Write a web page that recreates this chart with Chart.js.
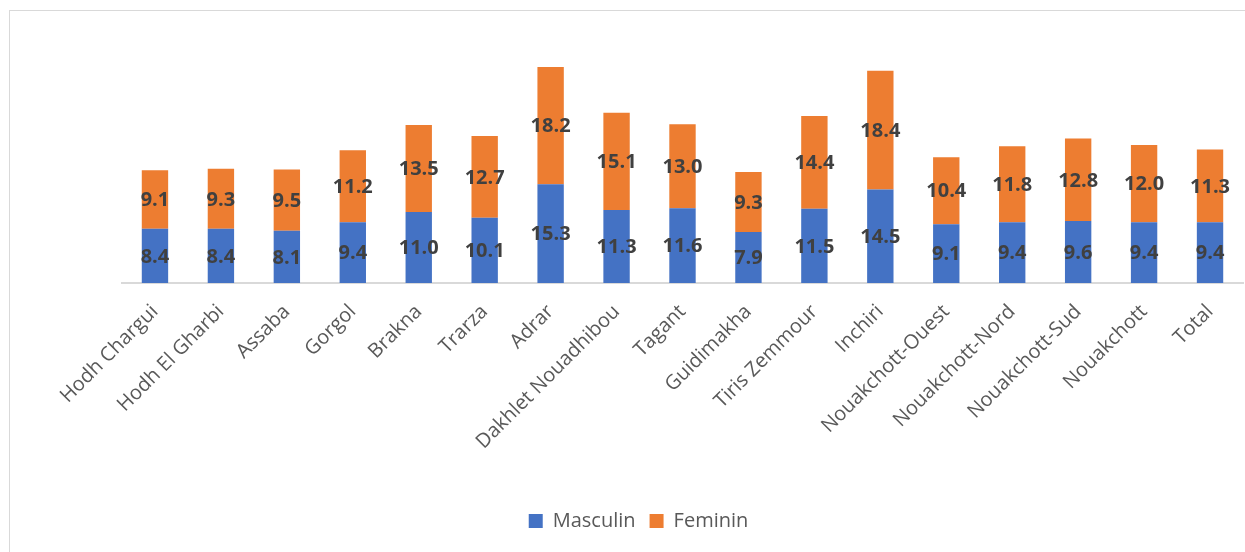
<!DOCTYPE html>
<html><head><meta charset="utf-8">
<script src="https://cdn.jsdelivr.net/npm/chart.js@4"></script>
<style>
html,body{margin:0;padding:0;background:#fff;overflow:hidden;}
#wrap{position:absolute;left:0;top:0;width:1245px;height:552px;}
#frame{position:absolute;left:9px;top:10px;width:1300px;height:600px;border:1px solid #d9d9d9;box-sizing:border-box;}
canvas{position:absolute;left:0;top:0;}
</style></head>
<body><div id="wrap"><div id="frame"></div><canvas id="c" width="1245" height="552"></canvas></div>
<script>
const categories = ["Hodh Chargui","Hodh El Gharbi","Assaba","Gorgol","Brakna","Trarza","Adrar","Dakhlet Nouadhibou","Tagant","Guidimakha","Tiris Zemmour","Inchiri","Nouakchott-Ouest","Nouakchott-Nord","Nouakchott-Sud","Nouakchott","Total"];
const masculin = [8.4,8.4,8.1,9.4,11.0,10.1,15.3,11.3,11.6,7.9,11.5,14.5,9.1,9.4,9.6,9.4,9.4];
const feminin  = [9.1,9.3,9.5,11.2,13.5,12.7,18.2,15.1,13.0,9.3,14.4,18.4,10.4,11.8,12.8,12.0,11.3];

const valueLabels = {
  id:'valueLabels',
  afterDatasetsDraw(chart){
    const ctx = chart.ctx;
    ctx.save();
    ctx.font = 'bold 20px "Open Sans", sans-serif';
    ctx.fillStyle = '#404040';
    ctx.textAlign = 'center';
    ctx.textBaseline = 'middle';
    chart.data.datasets.forEach((ds,i)=>{
      chart.getDatasetMeta(i).data.forEach((bar,j)=>{
        const y = (bar.y + bar.base)/2;
        ctx.fillText(ds.data[j].toFixed(1), bar.x, y + 1);
      });
    });
    ctx.restore();
  }
};

const legendShift = {
  id:'legendShift',
  beforeDraw(chart){
    const l = chart.legend;
    if (l) { l.left = 0; l.right = 1277; }
  }
};

new Chart(document.getElementById('c'), {
  type:'bar',
  data:{labels:categories, datasets:[
    {label:'Masculin', data:masculin, backgroundColor:'#4472C4', barPercentage:0.4, categoryPercentage:1},
    {label:'Feminin', data:feminin, backgroundColor:'#ED7D31', barPercentage:0.4, categoryPercentage:1}
  ]},
  options:{
    responsive:false, animation:false, devicePixelRatio:1,
    layout:{padding:{left:122,right:2,top:25,bottom:11}},
    plugins:{
      legend:{position:'bottom', labels:{boxWidth:14, boxHeight:14, padding:14, color:'#595959', font:{size:20, family:'"Open Sans", sans-serif'}}},
      tooltip:{enabled:false}
    },
    scales:{
      x:{stacked:true, grid:{display:false, drawTicks:false}, border:{color:'#d9d9d9', width:2},
         ticks:{color:'#595959', font:{size:20, family:'"Open Sans", sans-serif'}, maxRotation:45, minRotation:45, padding:17, autoSkip:false},
         afterFit(s){s.height = 214;}},
      y:{stacked:true, display:false, min:0, max:40}
    }
  },
  plugins:[valueLabels, legendShift]
});
</script></body></html>
